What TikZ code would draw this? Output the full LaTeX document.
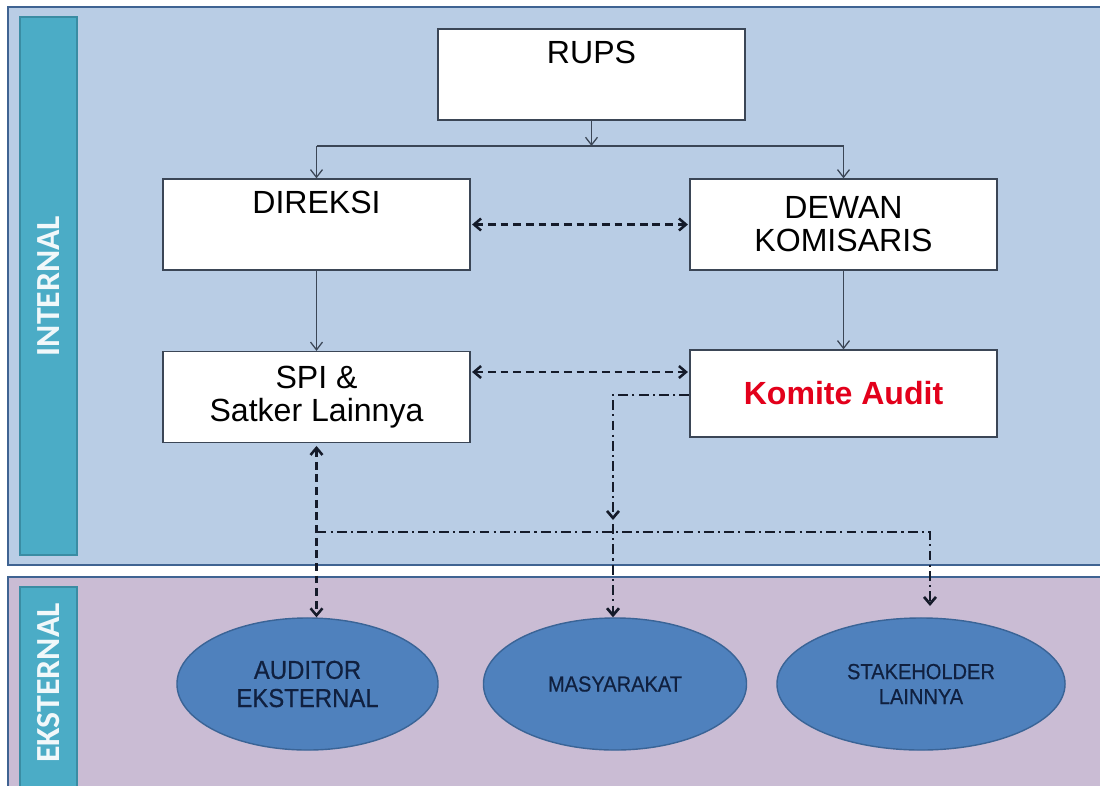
\documentclass[tikz,border=0pt]{standalone}
\usepackage{fontspec}
\setmainfont{Liberation Sans}
\newfontfamily\barfont{Carlito}
\newfontfamily\ovalfont[FakeBold=0.5,FakeStretch=0.92]{Liberation Sans}
\usetikzlibrary{arrows.meta,shapes.geometric}

\definecolor{panelin}{HTML}{B9CDE5}
\definecolor{panelex}{HTML}{CABCD4}
\definecolor{panelline}{HTML}{3F6392}
\definecolor{barfill}{HTML}{4BACC6}
\definecolor{barline}{HTML}{3A8CA3}
\definecolor{ovalfill}{HTML}{4F81BD}
\definecolor{ovalline}{HTML}{3A6496}
\definecolor{ovaltext}{HTML}{10203F}
\definecolor{linkcol}{HTML}{3B4656}
\definecolor{dashcol}{HTML}{151B2A}
\definecolor{komred}{HTML}{E3001B}

\tikzset{
  orgbox/.style={draw=linkcol,fill=white,line width=0.9pt,minimum width=7.675cm,
    minimum height=2.275cm,inner sep=0pt,align=center,
    font=\fontsize{22.8}{23.5}\selectfont},
  party/.style={ellipse,draw=ovalline,fill=ovalfill,line width=1pt,inner sep=0pt,
    minimum height=3.3cm,align=center,text=ovaltext},
  sidebar/.style={fill=barfill,draw=barline,line width=1pt},
  sidetext/.style={rotate=90,text=white!92!barfill,font=\barfont\bfseries\fontsize{24}{24}\selectfont},
  flow/.style={-{Straight Barb[length=5.5pt,width=8.5pt]},linkcol,line width=0.9pt},
  talk/.style={{Straight Barb[length=5pt,width=8.5pt]}-{Straight Barb[length=5pt,width=8.5pt]},
    dashcol,line width=1.8pt,dash pattern=on 5.5pt off 3.5pt},
  report/.style={-{Straight Barb[length=5pt,width=8.5pt]},dashcol,line width=1.9pt,
    dash pattern=on 7pt off 3pt on 1.5pt off 3pt},
}

\begin{document}
\begin{tikzpicture}[x=0.025cm,y=-0.025cm]
    \useasboundingbox (0,0) rectangle (1100,785);
    \clip (0,0) rectangle (1100,785);
    % panels
    \filldraw[fill=panelin,draw=panelline,line width=1.6pt](8,7)rectangle(1115,565);
    \filldraw[fill=panelex,draw=panelline,line width=1.6pt](8,577)rectangle(1115,800);
    \draw[sidebar](20,17)rectangle(77,555);
    \draw[sidebar](20,587)rectangle(77,800);
    \node[sidetext] (lblin) at (48.5,286) {INTERNAL};
    \node[sidetext] (lblex) at (48.5,683) {EKSTERNAL};

    % boxes
    \node[orgbox] (rups) at (591.5,74.5) {RUPS\\[1pt]\strut};
    \node[orgbox] (direksi) at (316.5,224.5) {DIREKSI\\[1pt]\strut};
    \node[orgbox] (dewan) at (843.5,224.5) {DEWAN\\KOMISARIS};
    \node[orgbox] (spi) at (316.5,397) {SPI \&\\Satker Lainnya};
    \node[orgbox,minimum height=2.175cm,text=komred,font=\fontsize{22.8}{23.5}\selectfont\bfseries] (komite) at (843.5,393.5) {Komite Audit};

    % external parties
    \node[party,minimum width=6.525cm,font=\ovalfont\fontsize{18.5}{20}\selectfont] (auditor) at (307.5,684) {AUDITOR\\EKSTERNAL};
    \node[party,minimum width=6.575cm,font=\ovalfont\fontsize{15.5}{18}\selectfont] (masy) at (615,684) {MASYARAKAT};
    \node[party,minimum width=7.2cm,font=\ovalfont\fontsize{15.5}{17.8}\selectfont] (stake) at (921,684) {STAKEHOLDER\\LAINNYA};

    % solid links
    \coordinate (split) at (591.5,146);
    \draw[flow] (rups) -- (split);
    \draw[flow] (direksi.north |- split) -- (direksi.north);
    \draw[flow] (dewan.north |- split) -- (dewan.north);
    \draw[linkcol,line width=0.9pt] (direksi.north |- split) -- (dewan.north |- split);
    \draw[flow] (direksi) -- (spi);
    \draw[flow] (dewan) -- (komite);

    % dashed links
    \draw[talk,shorten <=1pt,shorten >=1pt] (direksi) -- (dewan);
    \draw[talk,shorten <=1pt,shorten >=1pt] (spi.east |- 0,372) -- (komite.west |- 0,372);
    \draw[talk,shorten <=2pt] (spi.south) -- (spi.south |- auditor.north);

    % dash-dot links
    \coordinate (kaend) at (613,520);
    \coordinate (hub) at (613,524);
    \coordinate (stkend) at (930,606);
    \draw[report] (komite.west |- 0,395) -| (kaend);
    \draw[report] (hub) -- (hub |- masy.north);
    \draw[report] (spi.south |- 0,532) -| (stkend);
\end{tikzpicture}
\end{document}
